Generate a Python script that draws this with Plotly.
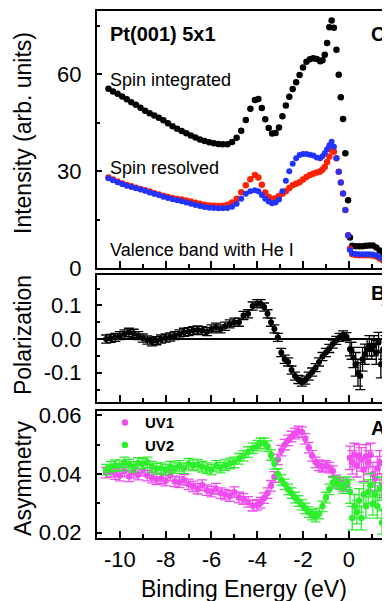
import plotly.graph_objects as go

# ---------------- Panel C : valence band spectra ----------------
energy_c = [-10.5, -10.3, -10.1, -9.9, -9.7, -9.5, -9.3, -9.1, -8.9, -8.7, -8.5, -8.3, -8.1,
            -7.9, -7.7, -7.5, -7.3, -7.1, -6.9, -6.7, -6.5, -6.3, -6.1, -5.9, -5.7, -5.5,
            -5.3, -5.1, -4.9, -4.7, -4.5, -4.3, -4.1,
            -3.95, -3.8, -3.65, -3.5, -3.35, -3.2, -3.05, -2.9, -2.75, -2.6, -2.45, -2.3,
            -2.15, -2.0, -1.85, -1.7, -1.55, -1.4, -1.25,
            -1.15, -1.05, -0.95, -0.85, -0.75, -0.65, -0.54, -0.44, -0.35, -0.25, -0.15, -0.03,
            0.05, 0.15, 0.3, 0.45, 0.6, 0.75, 0.9, 1.05, 1.2, 1.35, 1.5, 1.65, 1.8]

spin_integrated = [55.5, 54.6, 53.9, 53.1, 52.2, 51.3, 50.5, 49.6, 48.7, 47.9, 47.2, 46.5, 45.7,
                   44.8, 43.9, 43.1, 42.4, 41.7, 41.0, 40.4, 39.8, 39.3, 38.9, 38.6, 38.4, 38.3,
                   38.3, 39.0, 40.3, 42.5, 45.8, 49.3, 52.0,
                   52.3, 49.5, 46.0, 43.3, 41.6, 41.8, 43.5, 47.0, 50.3, 53.0, 55.4, 57.5,
                   59.7, 62.0, 63.8, 64.6, 64.9, 64.7, 64.0,
                   64.3, 66.0, 69.6, 74.5, 76.6, 74.3, 67.5, 59.8, 52.8, 46.1, 35.5, 21.0,
                   9.5, 6.9, 6.8, 6.8, 6.8, 6.9, 7.0, 7.0, 6.4, 5.5, 4.6, 3.8, 3.2]

spin_red = [28.0, 27.4, 26.8, 26.2, 25.7, 25.3, 24.9, 24.5, 24.1, 23.7, 23.2, 22.8, 22.4,
            22.0, 21.7, 21.4, 21.2, 20.9, 20.6, 20.2, 19.9, 19.6, 19.4, 19.3, 19.2, 19.3,
            19.6, 20.3, 21.5, 23.5, 25.6, 27.5, 28.8,
            28.0, 25.8, 23.4, 22.0, 21.5, 21.6, 22.3, 23.0, 23.8, 24.8, 25.6, 26.1,
            26.6, 27.4, 28.2, 28.8, 29.2, 29.6, 29.9,
            30.5, 31.3, 32.8, 34.5, 36.5, 36.0, 34.0, 29.8, 26.5, 23.1, 18.0, 10.2,
            6.0, 4.3, 4.1, 4.0, 4.0, 4.0, 4.0, 3.9, 3.6, 3.0, 2.4, 1.8, 1.3]

spin_blue = [27.8, 27.2, 26.6, 26.0, 25.5, 25.1, 24.7, 24.3, 23.9, 23.4, 23.0, 22.6, 22.1,
             21.7, 21.3, 21.0, 20.7, 20.3, 19.9, 19.5, 19.2, 18.9, 18.7, 18.6, 18.5, 18.5,
             18.6, 19.0, 19.9, 21.5, 23.0, 23.8, 24.1,
             23.8, 22.6, 21.5, 20.6, 20.1, 20.3, 21.2, 23.8, 27.0, 30.0, 32.3, 34.0,
             35.0, 35.3, 35.3, 35.1, 34.8, 34.2, 34.0,
             34.6, 35.5, 36.8, 38.0, 39.1, 37.5, 34.0, 29.8, 26.5, 23.1, 18.0, 10.2,
             5.6, 4.6, 4.4, 4.3, 4.3, 4.3, 4.3, 4.2, 4.0, 3.4, 2.8, 2.2, 1.7]

# ---------------- Panel B : spin polarization ----------------
energy_b = [-10.6, -10.4, -10.2, -10.0, -9.8, -9.6, -9.4, -9.2, -9.0, -8.8, -8.6, -8.4, -8.2,
            -8.0, -7.8, -7.6, -7.4, -7.2, -7.0, -6.8, -6.6, -6.4, -6.2, -6.0, -5.8, -5.6,
            -5.4, -5.2, -5.0, -4.8, -4.6, -4.4, -4.2, -4.0,
            -3.85, -3.7, -3.55, -3.4, -3.25, -3.1, -2.95, -2.8, -2.65, -2.5, -2.35, -2.2,
            -2.05, -1.9, -1.75, -1.6, -1.45, -1.3, -1.15, -1.0, -0.85, -0.7, -0.55, -0.4,
            -0.25, -0.1,
            0.05, 0.12, 0.2, 0.3, 0.4, 0.5, 0.6, 0.7, 0.8, 0.9, 1.0, 1.1, 1.2, 1.3, 1.4,
            1.5, 1.6, 1.65, 1.75]

polarization = [0.000, 0.002, 0.005, 0.010, 0.015, 0.020, 0.017, 0.010, 0.003, -0.003, -0.008,
                -0.005, 0.000, 0.003, 0.006, 0.010, 0.015, 0.020, 0.022, 0.025, 0.027, 0.025,
                0.022, 0.030, 0.035, 0.030, 0.038, 0.045, 0.050, 0.050, 0.070, 0.075, 0.098, 0.105,
                0.105, 0.095, 0.075, 0.050, 0.030, 0.005, -0.040, -0.060, -0.068, -0.092, -0.110,
                -0.120, -0.128, -0.122, -0.110, -0.098, -0.085, -0.068, -0.052, -0.040, -0.028,
                -0.015, -0.004, 0.005, 0.012, 0.007,
                -0.030, -0.035, -0.055, -0.075, -0.100, -0.110, -0.060, -0.045, -0.030, -0.020,
                -0.030, -0.020, -0.040, -0.010, -0.075, -0.030, -0.020, 0.050, -0.040]

polarization_err = [0.012] * 60 + [0.02, 0.025, 0.03, 0.035, 0.04, 0.04, 0.035, 0.03, 0.03,
                                   0.03, 0.03, 0.03, 0.035, 0.03, 0.04, 0.03, 0.03, 0.05, 0.035]

# ---------------- Panel A : asymmetry ----------------
energy_a = [-10.6, -10.4, -10.2, -10.0, -9.8, -9.6, -9.4, -9.2, -9.0, -8.8, -8.6, -8.4, -8.2,
            -8.0, -7.8, -7.6, -7.4, -7.2, -7.0, -6.8, -6.6, -6.4, -6.2, -6.0, -5.8, -5.6,
            -5.4, -5.2, -5.0, -4.8, -4.6, -4.4, -4.2, -4.0,
            -3.85, -3.7, -3.55, -3.4, -3.25, -3.1, -2.95, -2.8, -2.65, -2.5, -2.35, -2.2,
            -2.05, -1.9, -1.75, -1.6, -1.45, -1.3, -1.15, -1.0, -0.85, -0.7, -0.55, -0.4,
            -0.25, -0.1,
            0.05, 0.15, 0.25, 0.35, 0.45, 0.55, 0.65, 0.75, 0.85, 0.95, 1.05, 1.15, 1.25,
            1.35, 1.45, 1.55, 1.65, 1.75]

asym_uv1 = [0.0405, 0.0408, 0.0400, 0.0395, 0.0410, 0.0392, 0.0405, 0.0398, 0.0412, 0.0395,
            0.0388, 0.0382, 0.0385, 0.0378, 0.0395, 0.0375, 0.0372, 0.0380, 0.0365, 0.0358,
            0.0350, 0.0362, 0.0345, 0.0340, 0.0350, 0.0335, 0.0330, 0.0325, 0.0338, 0.0320,
            0.0315, 0.0305, 0.0292, 0.0295,
            0.0302, 0.0318, 0.0335, 0.0360, 0.0390, 0.0450, 0.0480, 0.0500, 0.0515, 0.0528,
            0.0538, 0.0545, 0.0543, 0.0520, 0.0490, 0.0462, 0.0440, 0.0430, 0.0425, 0.0428,
            0.0422, 0.0410, 0.0378, 0.0370, 0.0360, 0.0365,
            0.0455, 0.0440, 0.0465, 0.0430, 0.0460, 0.0450, 0.0415, 0.0460, 0.0440, 0.0465,
            0.0400, 0.0385, 0.0420, 0.0440, 0.0360, 0.0390, 0.0442, 0.0370]

asym_uv2 = [0.0415, 0.0425, 0.0430, 0.0428, 0.0440, 0.0432, 0.0425, 0.0438, 0.0435, 0.0440,
            0.0425, 0.0418, 0.0420, 0.0415, 0.0425, 0.0420, 0.0428, 0.0420, 0.0435, 0.0430,
            0.0432, 0.0425, 0.0420, 0.0415, 0.0428, 0.0422, 0.0430, 0.0436, 0.0440, 0.0452,
            0.0462, 0.0475, 0.0488, 0.0497,
            0.0505, 0.0505, 0.0495, 0.0465, 0.0435, 0.0400, 0.0380, 0.0365, 0.0348, 0.0335,
            0.0320, 0.0308, 0.0295, 0.0283, 0.0270, 0.0262, 0.0255, 0.0265, 0.0290, 0.0320,
            0.0348, 0.0370, 0.0375, 0.0365, 0.0352, 0.0372,
            0.0340, 0.0250, 0.0290, 0.0270, 0.0310, 0.0250, 0.0330, 0.0290, 0.0340, 0.0362,
            0.0300, 0.0330, 0.0290, 0.0350, 0.0235, 0.0320, 0.0290, 0.0385]

asym_err = [0.0018] * 60 + [0.004] * 18

# ---------------- ticks ----------------
x_major = [-10, -8, -6, -4, -2, 0]
x_major_text = ["-10", "-8", "-6", "-4", "-2", "0"]
x_minor = [-11, -9, -7, -5, -3, -1, 1]
c_major = [0, 30, 60]
c_minor = [15, 45, 75]
b_major = [-0.1, 0.0, 0.1]
b_major_text = ["-0.1", "0.0", "0.1"]
b_minor = [-0.15, -0.05, 0.05, 0.15]
a_major = [0.02, 0.04, 0.06]
a_major_text = ["0.02", "0.04", "0.06"]
a_minor = [0.03, 0.05]

FONT = "Arial, Liberation Sans, sans-serif"
BLACK = "#000000"
RED = "#ff2200"
BLUE = "#2233ff"
MAGENTA = "#f04cf0"
GREEN = "#2cf02c"

fig = go.Figure()

# Panel C
fig.add_trace(go.Scatter(x=energy_c, y=spin_integrated, mode="markers", xaxis="x3", yaxis="y3",
                         marker=dict(color=BLACK, size=6.5), showlegend=False))
fig.add_trace(go.Scatter(x=energy_c, y=spin_red, mode="markers", xaxis="x3", yaxis="y3",
                         marker=dict(color=RED, size=6.5), showlegend=False))
fig.add_trace(go.Scatter(x=energy_c, y=spin_blue, mode="markers", xaxis="x3", yaxis="y3",
                         marker=dict(color=BLUE, size=6), showlegend=False))

# Panel B
fig.add_trace(go.Scatter(x=energy_b, y=polarization, mode="markers", xaxis="x2", yaxis="y2",
                         marker=dict(color=BLACK, size=6),
                         error_y=dict(type="data", array=polarization_err, color=BLACK,
                                      thickness=1.3, width=5),
                         showlegend=False))

# Panel A
fig.add_trace(go.Scatter(x=energy_a, y=asym_uv1, mode="markers", name="UV1",
                         marker=dict(color=MAGENTA, size=6.5),
                         error_y=dict(type="data", array=asym_err, color=MAGENTA,
                                      thickness=1.3, width=5)))
fig.add_trace(go.Scatter(x=energy_a, y=asym_uv2, mode="markers", name="UV2",
                         marker=dict(color=GREEN, size=6.5),
                         error_y=dict(type="data", array=asym_err, color=GREEN,
                                      thickness=1.3, width=5)))


def xaxis_cfg(anchor, labels):
    return dict(anchor=anchor, domain=[0, 1], range=[-11.0, 1.8],
                showline=True, mirror=True, linecolor=BLACK, linewidth=2,
                ticks="inside", ticklen=7, tickwidth=1.5, tickcolor=BLACK,
                tickmode="array", tickvals=x_major, ticktext=x_major_text,
                showticklabels=labels, ticklabelstandoff=1, automargin=False,
                tickfont=dict(family=FONT, size=22, color=BLACK),
                minor=dict(ticks="inside", ticklen=4, tickwidth=1.5, tickcolor=BLACK,
                           tickmode="array", tickvals=x_minor),
                showgrid=False, zeroline=False)


def yaxis_cfg(domain, rng, vals, text, minor, anchor):
    return dict(anchor=anchor, domain=domain, range=rng,
                showline=True, mirror=False, linecolor=BLACK, linewidth=2,
                ticks="inside", ticklen=5, tickwidth=1.5, tickcolor=BLACK,
                tickmode="array", tickvals=vals, ticktext=text, ticklabelstandoff=9,
                automargin=False,
                tickfont=dict(family=FONT, size=22, color=BLACK),
                minor=dict(ticks="inside", ticklen=3, tickwidth=1.5, tickcolor=BLACK,
                           tickmode="array", tickvals=minor),
                showgrid=False, zeroline=False)


yC = yaxis_cfg([0.512, 1.0], [0, 79.5], c_major, [str(v) for v in c_major], c_minor, "x3")
yB = yaxis_cfg([0.258, 0.499], [-0.187, 0.19], b_major, b_major_text, b_minor, "x2")
yB.update(zeroline=True, zerolinecolor=BLACK, zerolinewidth=1.5)
yA = yaxis_cfg([0.0, 0.241], [0.0182, 0.0615], a_major, a_major_text, a_minor, "x")

ann_font = dict(family=FONT, color=BLACK)
annotations = [
    dict(text="<b>Pt(001) 5x1</b>", x=0.037, y=0.957, font=dict(size=20, **ann_font)),
    dict(text="Spin integrated", x=0.037, y=0.870, font=dict(size=18, **ann_font)),
    dict(text="Spin resolved", x=0.039, y=0.702, font=dict(size=18, **ann_font)),
    dict(text="Valence band with He I", x=0.039, y=0.547, font=dict(size=18, **ann_font)),
    dict(text="<b>C</b>", x=0.928, y=0.957, font=dict(size=20, **ann_font)),
    dict(text="<b>B</b>", x=0.928, y=0.465, font=dict(size=20, **ann_font)),
    dict(text="<b>A</b>", x=0.928, y=0.209, font=dict(size=20, **ann_font)),
]
for a in annotations:
    a.update(xref="paper", yref="paper", xanchor="left", yanchor="middle", showarrow=False)

titles = [
    dict(text="Intensity (arb. units)", y=0.7685),
    dict(text="Polarization", y=0.385),
    dict(text="Asymmetry", y=0.114),
]
for t in titles:
    t.update(x=-0.2526, xref="paper", yref="paper", xanchor="center", yanchor="middle",
             textangle=-90, showarrow=False, font=dict(size=23, **ann_font))
    annotations.append(t)

annotations.append(dict(text="Binding Energy (eV)", x=0.5, y=-0.0965, xref="paper", yref="paper",
                        xanchor="center", yanchor="middle", showarrow=False,
                        font=dict(size=23, **ann_font)))

# The page body adds an 8 px offset, so the figure is sized to end at the window edge.
fig.update_layout(
    width=382, height=593,
    margin=dict(l=89, r=0, t=3, b=63, autoexpand=False),
    paper_bgcolor="white", plot_bgcolor="white",
    font=dict(family=FONT, color=BLACK),
    xaxis=xaxis_cfg("y", True),
    xaxis2=xaxis_cfg("y2", False),
    xaxis3=xaxis_cfg("y3", False),
    yaxis=yA, yaxis2=yB, yaxis3=yC,
    annotations=annotations,
    legend=dict(x=0.027, y=0.25, xanchor="left", yanchor="top",
                bgcolor="rgba(0,0,0,0)", borderwidth=0,
                font=dict(family=FONT, size=15, color=BLACK, weight="bold"),
                itemwidth=30, tracegroupgap=0),
    showlegend=True,
)

fig.write_html("out.html")
